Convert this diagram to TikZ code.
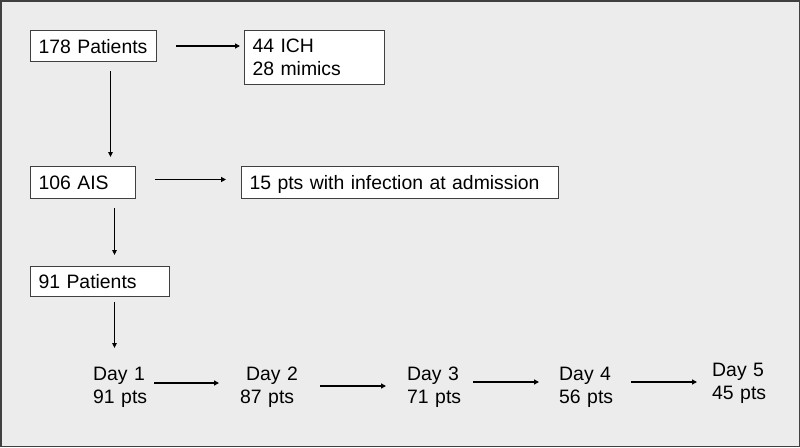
\documentclass[tikz,border=0pt]{standalone}
\usepackage{fontspec}
\setmainfont{Liberation Sans}
\usetikzlibrary{arrows.meta}
\definecolor{bgc}{HTML}{ECECEC}
\definecolor{edgec}{HTML}{404040}
\begin{document}
\begin{tikzpicture}[x=1pt,y=-1pt,
  every node/.style={font=\fontsize{19.4}{23}\selectfont},
  box/.style={draw=edgec, line width=1pt, fill=white, anchor=north west, inner xsep=8pt, inner ysep=0pt, align=left},
  oneline/.style={text height=14pt, text depth=0pt},
  daytext/.style={anchor=north west, inner sep=0pt, text width=60pt, align=left},
  arr/.style={draw=black, line width=1.8pt, -{Triangle[length=5pt,width=5pt]}},
  varr/.style={draw=black, line width=1.2pt, -{Triangle[length=5pt,width=4.5pt]}}]
\useasboundingbox (0,0) rectangle (800,447);
\fill[bgc] (0,0) rectangle (800,447);
\draw[edgec, line width=1.5pt] (0.75,0.75) rectangle (799.25,446.25);

\node[box, oneline, text width=110pt, minimum height=31pt] (p178) at (30,30) {178 Patients};
\node[box, text width=124pt, minimum height=54pt] (ich) at (244,30) {44 ICH\\28 mimics};
\node[box, oneline, text width=89pt, minimum height=32pt] (ais) at (30,166) {106 AIS};
\node[box, oneline, text width=301pt, minimum height=32pt] (inf) at (241,166) {15 pts with infection at admission};
\node[box, oneline, text width=123pt, minimum height=30pt] (p91) at (30,266) {91 Patients};

\node[daytext] (d1) at (93,367) {Day 1\\91 pts};
\node[daytext] (d2) at (240,367) {\hspace*{6pt}Day 2\\87 pts};
\node[daytext] (d3) at (407,367) {Day 3\\71 pts};
\node[daytext] (d4) at (559,367) {Day 4\\56 pts};
\node[daytext] (d5) at (712,363) {Day 5\\45 pts};

\draw[arr] ([xshift=19pt]p178.east) -- ([xshift=-4pt]p178.east -| ich.west);
\draw[varr] ([xshift=17pt,yshift=-9pt]p178.south) -- ([xshift=17pt,yshift=9pt]p178.south |- ais.north);
\draw[arr] ([xshift=19pt,yshift=3pt]ais.east) -- ([xshift=-15pt,yshift=3pt]ais.east -| inf.west);
\draw[varr] ([xshift=31.5pt,yshift=-9pt]ais.south) -- ([xshift=31.5pt,yshift=11pt]ais.south |- p91.north);
\draw[varr] ([xshift=14.5pt,yshift=-5pt]p91.south) -- ([xshift=14.5pt,yshift=19pt]p91.south |- d1.north);

\draw[arr] ([xshift=1pt,yshift=-16pt]d1.north east) -- ([xshift=-21pt,yshift=-16pt]d2.north west);
\draw[arr] ([xshift=20pt,yshift=-19pt]d2.north east) -- ([xshift=-21pt,yshift=-19pt]d3.north west);
\draw[arr] ([xshift=6pt,yshift=-15pt]d3.north east) -- ([xshift=-20pt,yshift=-15pt]d4.north west);
\draw[arr] ([xshift=12pt,yshift=-15pt]d4.north east) -- ([xshift=-15pt,yshift=-19pt]d5.north west);
\end{tikzpicture}
\end{document}
